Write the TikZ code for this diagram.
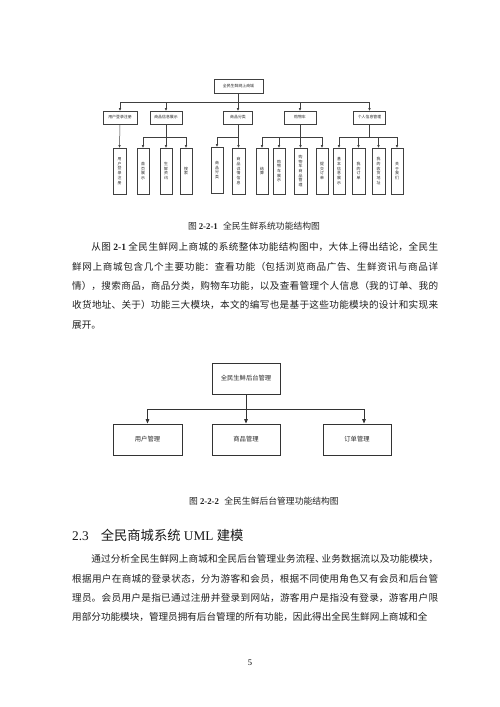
\documentclass[tikz,border=0pt]{standalone}
\usepackage{fontspec}
\setmainfont{Liberation Serif}
\newfontfamily\cjk{Noto Sans CJK SC}
\newfontfamily\tnr{Liberation Serif}
\usetikzlibrary{arrows.meta}
\XeTeXlinebreaklocale "zh"
\XeTeXlinebreakskip=0pt plus 3pt
\begin{document}
\begin{tikzpicture}[x=1pt,y=-1pt,
  bxa/.style={draw=black!75, line width=0.5pt, inner sep=0pt, text=black!85, font=\cjk\fontsize{3.9}{4.4}\selectfont},
  lvtwo/.style={bxa, minimum width=32pt, minimum height=13pt},
  leaf/.style={bxa, minimum width=12.5pt, minimum height=46pt, align=center, font=\cjk\fontsize{3.9}{4.7}\selectfont},
  lna/.style={draw=black!75, line width=0.5pt},
  ara/.style={lna, -{Triangle[length=2.6pt,width=2.2pt]}},
  bxb/.style={draw=black!80, line width=0.9pt, minimum width=68pt, minimum height=31pt, inner sep=0pt, text=black!85, font=\cjk\fontsize{6.3}{7}\selectfont},
  lnb/.style={draw=black!80, line width=0.9pt},
  arb/.style={lnb, -{Triangle[length=4.5pt,width=3.6pt]}},
  body/.style={inner sep=0pt, text=black!88, text width=366pt, align=justify, font=\cjk\fontsize{9.6}{19.3}\selectfont},
  capt/.style={inner sep=0pt, text=black!85, font=\cjk\fontsize{8.8}{10}\selectfont}
]
\useasboundingbox[fill=white] (0,0) rectangle (500,707);

% ---------- diagram 1 ----------
\node[bxa, minimum width=49pt, minimum height=14pt] (r1) at (238.5,86) {全民生鲜网上商城};
\node[lvtwo, minimum width=34pt] (a1) at (120,117.5) {用户登录注册};
\node[lvtwo] (a2) at (166,117.5) {商品信息展示};
\node[lvtwo, minimum width=29pt] (a3) at (238,117.5) {商品分类};
\node[lvtwo] (a4) at (300,117.5) {购物车};
\node[lvtwo] (a5) at (369.5,117.5) {个人信息管理};

\coordinate (bus1) at (238,102);
\draw[lna] (r1.south) -- (r1.south |- bus1);
\draw[lna] (a1.north |- bus1) -- (a5.north |- bus1);
\foreach \n in {a1,a2,a3,a4,a5} \draw[ara] (\n.north |- bus1) -- (\n.north);

\node[leaf] (p1) at (119.5,171) {用\\户\\登\\录\\注\\册};
\node[leaf] (p2) at (143,171) {首\\页\\展\\示};
\node[leaf] (p3) at (166,171) {生\\鲜\\资\\讯};
\node[leaf] (p4) at (186,171) {搜\\索};
\node[leaf] (p5) at (217,170) {商\\品\\分\\类};
\node[leaf] (p6) at (238.5,171) {商\\品\\详\\情\\信\\息};
\node[leaf] (p7) at (262,171) {结\\算};
\node[leaf] (p8) at (279,171) {购\\物\\车\\展\\示};
\node[leaf] (p9) at (300.5,171) {购\\物\\车\\商\\品\\管\\理};
\node[leaf] (p10) at (322,171) {提\\交\\订\\单};
\node[leaf] (p11) at (339,171) {基\\本\\信\\息\\展\\示};
\node[leaf] (p12) at (358.5,171) {我\\的\\订\\单};
\node[leaf] (p13) at (378.5,171) {我\\的\\收\\货\\地\\址};
\node[leaf] (p14) at (397,171) {关\\于\\我\\们};

\coordinate (sb) at (0,137);
\draw[ara] (a1.south) -- (p1.north);
% group 2
\draw[lna] (a2.south) -- (a2.south |- sb);
\draw[lna] (p2.north |- sb) -- (p4.north |- sb);
\foreach \n in {p2,p3,p4} \draw[ara] (\n.north |- sb) -- (\n.north);
% group 3
\draw[lna] (a3.south) -- (a3.south |- sb);
\draw[lna] (p5.north |- sb) -- (p6.north |- sb);
\foreach \n in {p5,p6} \draw[ara] (\n.north |- sb) -- (\n.north);
% group 4
\draw[lna] (a4.south) -- (a4.south |- sb);
\draw[lna] (p7.north |- sb) -- (p10.north |- sb);
\foreach \n in {p7,p8,p9,p10} \draw[ara] (\n.north |- sb) -- (\n.north);
% group 5
\draw[lna] (a5.south) -- (a5.south |- sb);
\draw[lna] (p11.north |- sb) -- (p14.north |- sb);
\foreach \n in {p11,p12,p13,p14} \draw[ara] (\n.north |- sb) -- (\n.north);

\node[capt] (cap1) at (254,226) {图 {\tnr\bfseries 2-2-1}\hspace{0.6em}全民生鲜系统功能结构图};

% ---------- paragraph 1 ----------
\node[body, anchor=north west] (para1) at (72,242.6) {\tolerance=9999\hspace*{2em}从图 {\tnr\bfseries 2-1} 全民生鲜网上商城的系统整体功能结构图中，大体上得出结论，全民生\linebreak%
鲜网上商城包含几个主要功能：查看功能（包括浏览商品广告、生鲜资讯与商品详\linebreak%
情），搜索商品，商品分类，购物车功能，以及查看管理个人信息（我的订单、我的\linebreak%
收货地址、关于）功能三大模块，本文的编写也是基于这些功能模块的设计和实现来\linebreak%
展开。};

% ---------- diagram 2 ----------
\node[bxb] (m0) at (246,378.5) {全民生鲜后台管理};
\node[bxb, minimum width=69pt] (m1) at (147.5,439.5) {用户管理};
\node[bxb] (m2) at (246,439.5) {商品管理};
\node[bxb] (m3) at (357,439.5) {订单管理};
\coordinate (bus2) at (246,409);
\coordinate (m3t) at ([xshift=7pt]m3.north);
\draw[lnb] (m1.north |- bus2) -- (m3t |- bus2);
\draw[arb] (m0.south) -- (m2.north);
\draw[arb] (m1.north |- bus2) -- (m1.north);
\draw[arb] (m3t |- bus2) -- (m3t);

\node[capt] (cap2) at (264,501) {图 {\tnr\bfseries 2-2-2}\hspace{0.6em}全民生鲜后台管理功能结构图};

% ---------- heading ----------
\node[anchor=base west, inner sep=0pt, text=black!90, font=\fontsize{13.3}{15}\selectfont] (head) at (72,540)
  {{\tnr 2.3}\hspace{12pt}{\cjk 全民商城系统} {\tnr UML} {\cjk 建模}};

% ---------- paragraph 2 ----------
\node[body, anchor=north west] (para2) at (72,554.6) {\tolerance=9999\hspace*{2em}通过分析全民生鲜网上商城和全民后台管理业务流程{、}\kern-3pt 业务数据流以及功能模块，\linebreak%
根据用户在商城的登录状态，分为游客和会员，根据不同使用角色又有会员和后台管\linebreak%
理员。会员用户是指已通过注册并登录到网站，游客用户是指没有登录，游客用户限\linebreak%
用部分功能模块，管理员拥有后台管理的所有功能，因此得出全民生鲜网上商城和全};

\node[inner sep=0pt, font=\tnr\fontsize{8.5}{10}\selectfont] (pg) at (250,663) {5};
\end{tikzpicture}
\end{document}
